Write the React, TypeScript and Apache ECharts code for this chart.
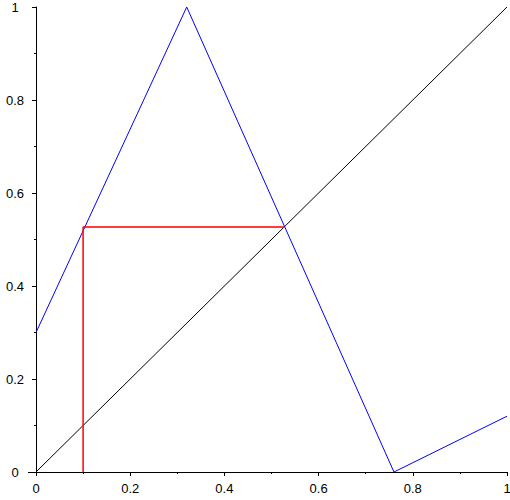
import React, { useEffect, useRef } from "react";
import * as echarts from "echarts";

const diagonal: [number, number][] = [[0, 0], [1, 1]];
const tentMap: [number, number][] = [[0, 0.3], [0.32, 1], [0.76, 0], [1, 0.12]];
const cobweb: [number, number][] = [[0.1, 0], [0.1, 0.527], [0.527, 0.527]];
const xTicks = [0, 0.2, 0.4, 0.6, 0.8, 1];
const yTicks = [0, 0.2, 0.4, 0.6, 0.8, 1];

export default function App() {
  const ref = useRef<HTMLDivElement>(null);
  useEffect(() => {
    document.body.style.margin = "0";
    const chart = echarts.init(ref.current!, null, { renderer: "svg" });
    const labelStyle = { color: "#000", fontFamily: "Liberation Sans, Arial, sans-serif", fontSize: 13 };
    chart.setOption({
      animation: false,
      backgroundColor: "#fff",
      grid: { left: 36, right: 3, top: 7, bottom: 28, containLabel: false, outerBoundsMode: "none" },
      xAxis: {
        type: "value",
        min: xTicks[0],
        max: xTicks[xTicks.length - 1],
        interval: 0.2,
        axisLine: { show: true, onZero: false, lineStyle: { color: "#000", width: 1 } },
        axisTick: { show: true, length: 4, lineStyle: { color: "#000" } },
        minorTick: { show: true, splitNumber: 2, length: 2, lineStyle: { color: "#000" } },
        splitLine: { show: false },
        axisLabel: { ...labelStyle, margin: 10 },
      },
      yAxis: {
        type: "value",
        min: yTicks[0],
        max: yTicks[yTicks.length - 1],
        interval: 0.2,
        axisLine: { show: true, onZero: false, lineStyle: { color: "#000", width: 1 } },
        axisTick: { show: true, length: 4, lineStyle: { color: "#000" } },
        minorTick: { show: true, splitNumber: 2, length: 2, lineStyle: { color: "#000" } },
        splitLine: { show: false },
        axisLabel: { ...labelStyle, margin: 21, align: "center" },
      },
      graphic: [
        {
          type: "line",
          shape: { x1: 28, y1: 472.5, x2: 36, y2: 472.5 },
          style: { stroke: "#000", lineWidth: 1 },
        },
      ],
      series: [
        {
          type: "line",
          data: diagonal,
          symbol: "none",
          lineStyle: { color: "#000", width: 1 },
        },
        {
          type: "line",
          data: tentMap,
          symbol: "none",
          lineStyle: { color: "#0000ff", width: 1 },
        },
        {
          type: "line",
          data: cobweb,
          symbol: "none",
          lineStyle: { color: "#ff0000", width: 1.5 },
        },
      ],
    });
    return () => chart.dispose();
  }, []);
  return <div ref={ref} style={{ width: 510, height: 500 }} />;
}
